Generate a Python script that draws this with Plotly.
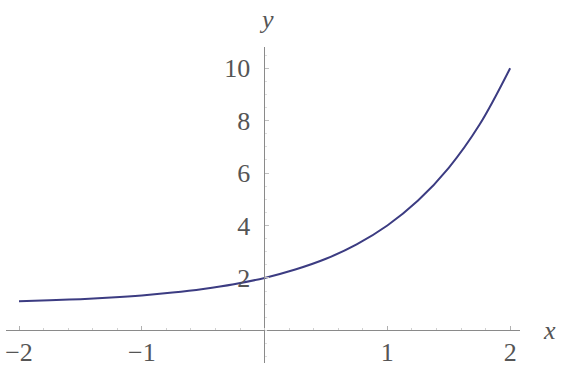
import plotly.graph_objects as go

# values
x_vals = [-2.0, -1.75, -1.5, -1.25, -1.0, -0.75, -0.5, -0.25, 0.0,
          0.25, 0.5, 0.75, 1.0, 1.25, 1.5, 1.75, 2.0]
y_vals = [1.11, 1.15, 1.19, 1.25, 1.33, 1.44, 1.58, 1.76, 2.0,
          2.32, 2.73, 3.28, 4.0, 4.95, 6.2, 7.84, 10.0]

x_ticks = [-2, -1, 1, 2]
x_tick_text = ["\u22122", "\u22121", "1", "2"]
y_ticks = [2, 4, 6, 8, 10]
y_tick_text = ["2", "4", "6", "8", "10"]

W, H = 568, 367
axis_col = "#8a8a8a"
font = dict(family="Liberation Serif", size=26, color="#555555")

fig = go.Figure(go.Scatter(
    x=x_vals, y=y_vals, mode="lines",
    line=dict(color="#3c3c82", width=2, shape="spline"),
    hoverinfo="skip",
))

fig.update_layout(
    width=W, height=H,
    margin=dict(l=0, r=0, t=0, b=0),
    paper_bgcolor="white", plot_bgcolor="white",
    showlegend=False,
    font=font,
    xaxis=dict(
        domain=[5 / W, 520 / W],
        range=[-2.106, 2.081],
        anchor="free", position=33 / H,
        showline=True, linecolor=axis_col, linewidth=1,
        showgrid=False, zeroline=False,
        tickvals=x_ticks, ticktext=x_tick_text,
        ticks="inside", ticklen=4, tickcolor="#b0b0b0",
        ticklabelstandoff=-2,
        minor=dict(dtick=0.2, ticks="inside", ticklen=2, tickcolor="#d0d0d0", showgrid=False),
        tickfont=font,
    ),
    yaxis=dict(
        domain=[0, 319 / H],
        range=[-1.245, 10.79],
        anchor="free", position=263 / W,
        showline=True, linecolor=axis_col, linewidth=1,
        showgrid=False, zeroline=False,
        tickvals=y_ticks, ticktext=y_tick_text,
        ticks="inside", ticklen=4, tickcolor="#c0c0c0",
        ticklabelstandoff=8,
        minor=dict(dtick=0.5, ticks="inside", ticklen=2, tickcolor="#dddddd", showgrid=False),
        tickfont=font,
    ),
    annotations=[
        dict(text="<i>y</i>", xref="paper", yref="paper", x=266 / W, y=1 - 20 / H,
             xanchor="center", yanchor="middle", showarrow=False, font=font),
        dict(text="<i>x</i>", xref="paper", yref="paper", x=549 / W, y=1 - 334 / H,
             xanchor="center", yanchor="middle", showarrow=False, font=font),
    ],
)

# drop the browser's default body margin so the figure sits at the window corner
fig.write_html("out.html", config={"displayModeBar": False},
               post_script="document.body.style.margin='0';")
